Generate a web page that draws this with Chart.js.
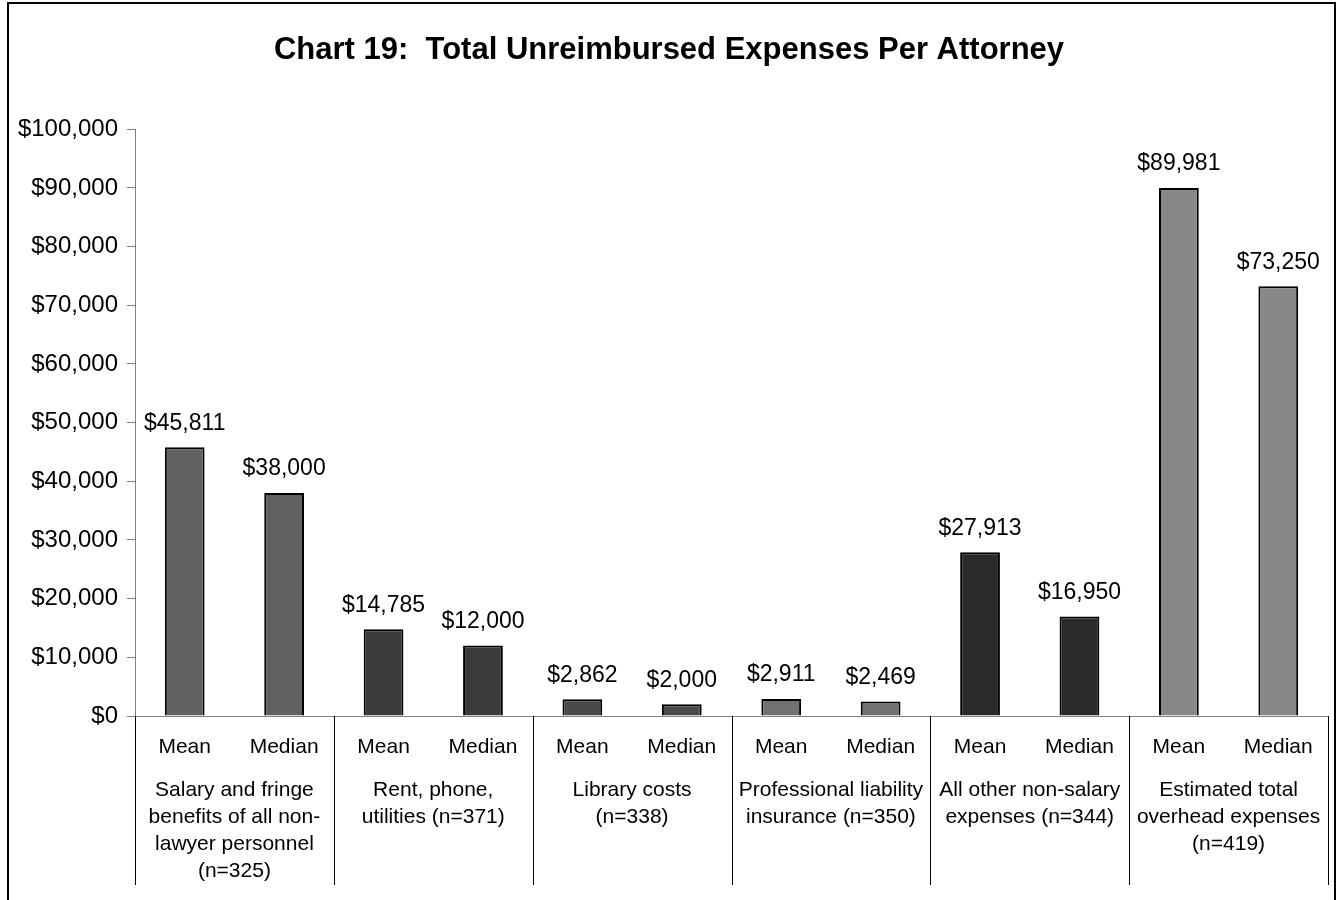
<!DOCTYPE html>
<html>
<head>
<meta charset="utf-8">
<script src="https://cdn.jsdelivr.net/npm/chart.js@4/dist/chart.umd.min.js"></script>
<style>
  body { margin: 0; background: #fff; }
  #wrap { width: 1341px; height: 900px; }
</style>
</head>
<body>
<div id="wrap"><canvas id="chart" width="1341" height="900"></canvas></div>
<script>
// Chart data
const barLabels = ['Mean', 'Median', 'Mean', 'Median', 'Mean', 'Median',
                   'Mean', 'Median', 'Mean', 'Median', 'Mean', 'Median'];
const groupLabels = [
    ['Salary and fringe', 'benefits of all non-', 'lawyer personnel', '(n=325)'],
    ['Rent, phone,', 'utilities (n=371)'],
    ['Library costs', '(n=338)'],
    ['Professional liability', 'insurance (n=350)'],
    ['All other non-salary', 'expenses (n=344)'],
    ['Estimated total', 'overhead expenses', '(n=419)']
];
const values = [45811, 38000, 14785, 12000, 2862, 2000, 2911, 2469, 27913, 16950, 89981, 73250];
const groupColors = ['#616161', '#3b3b3b', '#4a4a4a', '#717171', '#2a2a2a', '#888888'];

const barColors = values.map((v, i) => groupColors[Math.floor(i / 2)]);
const money = v => '$' + v.toLocaleString('en-US');
const FONT = 'Arial, "Liberation Sans", sans-serif';

// Outer frame of the chart
const framePlugin = {
    id: 'frame',
    beforeDraw(chart) {
        const ctx = chart.ctx;
        ctx.save();
        ctx.fillStyle = '#fff';
        ctx.fillRect(0, 0, chart.width, chart.height);
        ctx.strokeStyle = '#000';
        ctx.lineWidth = 2;
        ctx.strokeRect(8, 3, 1327, 920);
        ctx.restore();
    }
};

// Value labels above bars and group dividers under the axis
const labelPlugin = {
    id: 'barValues',
    afterDatasetsDraw(chart) {
        const ctx = chart.ctx;
        const meta = chart.getDatasetMeta(0);
        ctx.save();
        ctx.font = '23px ' + FONT;
        ctx.fillStyle = '#000';
        ctx.textAlign = 'center';
        ctx.textBaseline = 'middle';
        meta.data.forEach((bar, i) => {
            ctx.fillText(money(values[i]), bar.x, bar.y - 24);
        });

        const xs = chart.scales.x;
        const top = chart.chartArea.bottom;
        ctx.strokeStyle = '#000';
        ctx.lineWidth = 1;
        for (let g = 0; g <= groupLabels.length; g++) {
            let px;
            if (g === 0) px = xs.left;
            else if (g === groupLabels.length) px = xs.right;
            else px = (xs.getPixelForValue(2 * g - 1) + xs.getPixelForValue(2 * g)) / 2;
            px = Math.round(px) + 0.5;
            ctx.beginPath();
            ctx.moveTo(px, top);
            ctx.lineTo(px, top + 169);
            ctx.stroke();
        }
        ctx.restore();
    }
};

new Chart(document.getElementById('chart').getContext('2d'), {
    type: 'bar',
    data: {
        labels: barLabels,
        datasets: [{
            data: values,
            backgroundColor: barColors,
            borderColor: '#000',
            borderWidth: 2,
            barPercentage: 0.4,
            categoryPercentage: 1.0
        }]
    },
    options: {
        responsive: false,
        animation: false,
        layout: { padding: { left: 10, right: 13, top: 0, bottom: 0 } },
        plugins: {
            legend: { display: false },
            tooltip: { enabled: false },
            title: {
                display: true,
                text: 'Chart 19:  Total Unreimbursed Expenses Per Attorney',
                color: '#000',
                font: { family: FONT, size: 31, weight: 'bold', lineHeight: 1.2 },
                padding: { top: 32, bottom: 60 }
            }
        },
        scales: {
            y: {
                min: 0,
                max: 100000,
                ticks: {
                    stepSize: 10000,
                    color: '#000',
                    padding: 9,
                    font: { family: FONT, size: 24 },
                    callback: v => money(v)
                },
                grid: { drawOnChartArea: false, tickLength: 8, color: '#808080' },
                border: { color: '#808080', width: 1 },
                afterFit(scale) { scale.width = 125; }
            },
            x: {
                ticks: {
                    color: '#000',
                    padding: 19,
                    maxRotation: 0,
                    autoSkip: false,
                    font: { family: FONT, size: 21 }
                },
                grid: { display: false, drawTicks: false },
                border: { color: '#808080', width: 1 },
                afterFit(scale) { scale.height = 61; }
            },
            x2: {
                type: 'category',
                position: 'bottom',
                labels: groupLabels,
                offset: true,
                ticks: {
                    color: '#000',
                    padding: 0,
                    maxRotation: 0,
                    autoSkip: false,
                    font: { family: FONT, size: 21, lineHeight: 1.286 }
                },
                grid: { display: false, drawTicks: false },
                border: { display: false },
                afterFit(scale) { scale.height = 123; }
            }
        }
    },
    plugins: [framePlugin, labelPlugin]
});
</script>
</body>
</html>
